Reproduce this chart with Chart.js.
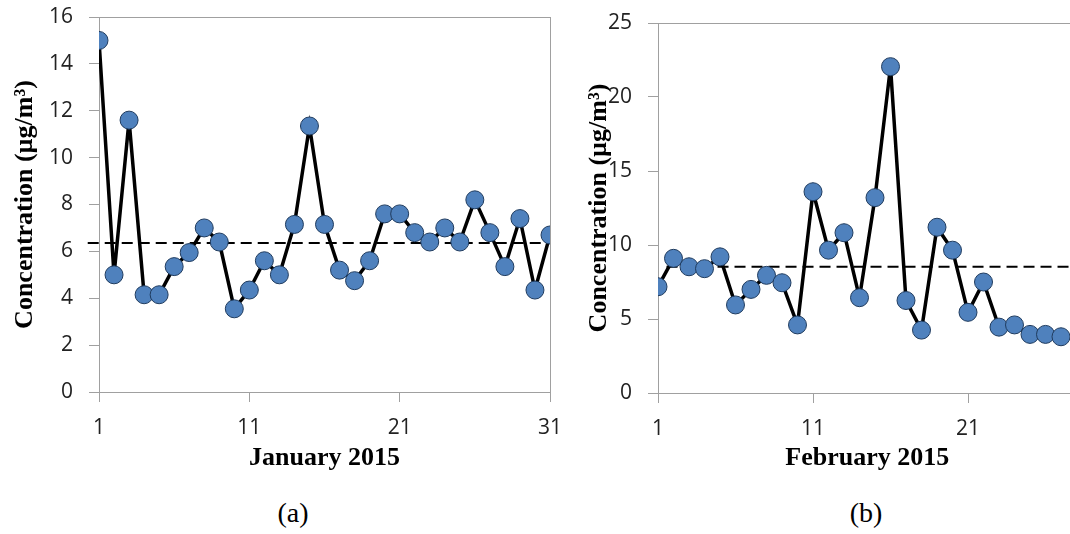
<!DOCTYPE html>
<html>
<head>
<meta charset="utf-8">
<script src="https://cdn.jsdelivr.net/npm/chart.js@4.4.1/dist/chart.umd.min.js"></script>
<style>
body { margin: 0; width: 1070px; height: 534px; overflow: hidden; background: #fff; position: relative; }
canvas { position: absolute; top: 0; }
#janChart { left: 0; }
#febChart { left: 560px; }
.panel { position: absolute; top: 497px; width: 80px; text-align: center; font-family: "Liberation Serif", serif; font-size: 28px; color: #000; }
</style>
</head>
<body>
<canvas id="janChart" width="580" height="480"></canvas>
<canvas id="febChart" width="530" height="480"></canvas>
<div class="panel" style="left:253px">(a)</div>
<div class="panel" style="left:826px">(b)</div>
<script>
// January 2015
const janDays = [1, 2, 3, 4, 5, 6, 7, 8, 9, 10, 11, 12, 13, 14, 15, 16, 17, 18, 19, 20, 21, 22, 23, 24, 25, 26, 27, 28, 29, 30, 31];
const janValues = [15.0, 5.0, 11.6, 4.15, 4.15, 5.35, 5.95, 7.0, 6.4, 3.55, 4.35, 5.6, 5.0, 7.15, 11.35, 7.15, 5.2, 4.75, 5.6, 7.6, 7.6, 6.8, 6.4, 7.0, 6.4, 8.2, 6.8, 5.35, 7.4, 4.35, 6.7];
const janMean = 6.36;
const janMeanSpan = [0.25, 31];
const janTicks = [1, 11, 21, 31];

// February 2015
const febDays = [1, 2, 3, 4, 5, 6, 7, 8, 9, 10, 11, 12, 13, 14, 15, 16, 17, 18, 19, 20, 21, 22, 23, 24, 25, 26, 27];
const febValues = [7.18, 9.1, 8.53, 8.4, 9.2, 5.95, 7.0, 7.95, 7.45, 4.6, 13.6, 9.65, 10.83, 6.44, 13.2, 22.05, 6.25, 4.25, 11.2, 9.65, 5.45, 7.5, 4.45, 4.6, 3.96, 3.96, 3.8];
const febMean = 8.53;
const febMeanSpan = [1.55, 28];
const febTicks = [1, 11, 21];

const axisGray = '#a0a0a0';
const tickFont = { family: 'Open Sans', size: 21 };
const titleFont = { family: 'Liberation Serif', size: 26, weight: 'bold' };

// plot area frame (top and right edges too)
const framePlugin = {
    id: 'frame',
    beforeDatasetsDraw(chart) {
        const a = chart.chartArea;
        const ctx = chart.ctx;
        ctx.save();
        ctx.strokeStyle = axisGray;
        ctx.lineWidth = 1;
        ctx.strokeRect(Math.round(a.left) + 0.5, Math.round(a.top) + 0.5, Math.round(a.right - a.left), Math.round(a.bottom - a.top));
        ctx.restore();
    }
};

function makeChart(id, days, values, mean, meanSpan, xMax, xTicks, yMax, yStep, xTitle, box) {
    const points = days.map((d, i) => ({ x: d, y: values[i] }));
    const meanLine = meanSpan.map(d => ({ x: d, y: mean }));
    return new Chart(document.getElementById(id), {
        type: 'line',
        data: {
            datasets: [{
                data: points,
                borderColor: '#000',
                borderWidth: 3.5,
                pointRadius: 9,
                pointBackgroundColor: '#4f81bd',
                pointBorderColor: '#1f3b5e',
                pointBorderWidth: 1,
                tension: 0
            }, {
                data: meanLine,
                borderColor: '#000',
                borderWidth: 2,
                borderDash: [11, 6],
                pointRadius: 0,
                clip: false
            }]
        },
        options: {
            responsive: false,
            animation: false,
            events: [],
            layout: { padding: { left: 0, right: box.padRight, top: box.padTop, bottom: 0 } },
            plugins: { legend: { display: false }, tooltip: { enabled: false } },
            scales: {
                x: {
                    type: 'linear',
                    min: 1,
                    max: xMax,
                    afterBuildTicks: s => { s.ticks = xTicks.map(v => ({ value: v })); },
                    afterFit: s => { s.height = box.xHeight; s.paddingLeft = 0; s.paddingRight = 0; },
                    ticks: { font: tickFont, color: '#222', padding: 13, maxRotation: 0 },
                    grid: { drawOnChartArea: false, tickLength: 10, color: axisGray },
                    border: { color: axisGray },
                    title: { display: true, text: xTitle, font: titleFont, color: '#000', padding: { top: 0, bottom: 6 } }
                },
                y: {
                    min: 0,
                    max: yMax,
                    afterFit: s => { s.width = box.yWidth; s.paddingTop = 0; s.paddingBottom = 0; },
                    ticks: { stepSize: yStep, font: tickFont, color: '#222', padding: 16 },
                    grid: { drawOnChartArea: false, tickLength: 10, color: axisGray },
                    border: { color: axisGray },
                    title: { display: true, text: 'Concentration (µg/m³)', font: titleFont, color: '#000', padding: { top: box.yTitlePad, bottom: 0 } }
                }
            }
        },
        plugins: [framePlugin]
    });
}

makeChart('janChart', janDays, janValues, janMean, janMeanSpan, 31, janTicks, 16, 2, 'January 2015',
    { yWidth: 99, padRight: 30, padTop: 17, xHeight: 88, yTitlePad: 10 });
makeChart('febChart', febDays, febValues, febMean, febMeanSpan, 28, febTicks, 25, 5, 'February 2015',
    { yWidth: 98, padRight: 13.5, padTop: 23, xHeight: 87, yTitlePad: 24 });
</script>
</body>
</html>
